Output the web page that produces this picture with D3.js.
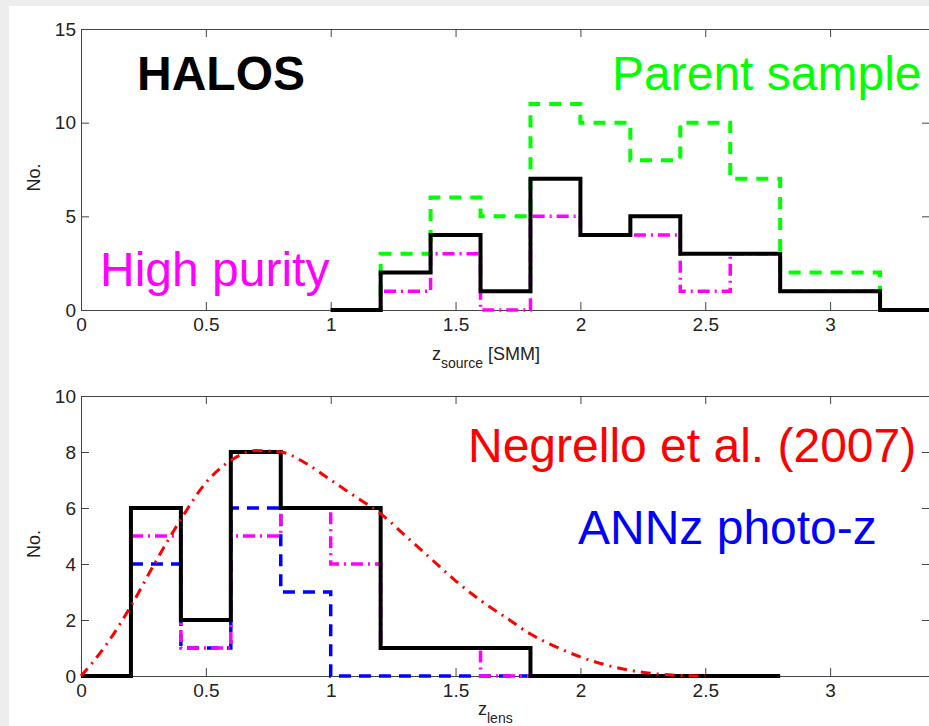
<!DOCTYPE html>
<html>
<head>
<meta charset="utf-8">
<script src="https://cdn.jsdelivr.net/npm/d3@7"></script>
<style>
  html, body { margin: 0; padding: 0; background: #ededed; }
  svg { display: block; font-family: "Liberation Sans", Arial, sans-serif; }
</style>
</head>
<body>
<div id="chart"></div>
<script>
// top panel: z_source histograms (bins of 0.2)
const srcEdges = [1.0, 1.2, 1.4, 1.6, 1.8, 2.0, 2.2, 2.4, 2.6, 2.8, 3.0, 3.2, 3.4];
const srcAll = [0, 2, 4, 1, 7, 4, 5, 3, 3, 1, 1, 0];
const srcParent = [0, 3, 6, 5, 11, 10, 8, 10, 7, 2, 2, 0];
const srcHighPurity = [0, 1, 3, 0, 5, 4, 4, 1, 3, 1, 1, 0];

// bottom panel: z_lens histograms
const lensEdges = [0.0, 0.2, 0.4, 0.6, 0.8, 1.0, 1.2, 1.4, 1.6, 1.8, 2.0, 2.2, 2.4, 2.6, 2.8];
const lensAll = [0, 6, 2, 8, 6, 6, 1, 1, 1, 0, 0, 0, 0, 0];
const annzEdges = [0.2, 0.4, 0.6, 0.8, 1.0, 1.2, 1.4, 1.6, 1.8];
const lensAnnz = [4, 1, 6, 3, 0, 0, 0, 0];
const lensHighPurity = [5, 1, 5, 6, 4, 1, 1, 0];

// Negrello et al. (2007) model curve
const negZ = [0, 0.1, 0.2, 0.3, 0.4, 0.5, 0.6, 0.7, 0.8, 0.9, 1.0, 1.1, 1.2, 1.3,
  1.4, 1.5, 1.6, 1.7, 1.8, 1.9, 2.0, 2.1, 2.2, 2.3, 2.4, 2.5];
const negN = [0, 1.1, 2.5, 4.1, 5.6, 6.9, 7.7, 8.05, 8.0, 7.6, 7.0, 6.4, 5.8, 5.0,
  4.2, 3.4, 2.7, 2.1, 1.5, 1.05, 0.68, 0.4, 0.2, 0.08, 0.02, 0];

const xTicks = [0, 0.5, 1, 1.5, 2, 2.5, 3];
const srcYTicks = [0, 5, 10, 15];
const lensYTicks = [0, 2, 4, 6, 8, 10];

const width = 929;
const height = 726;
const left = 81, right = 930;

const svg = d3.select('#chart')
  .append('svg')
  .attr('width', width)
  .attr('height', height);

svg.append('rect')
  .attr('x', 9).attr('y', 6)
  .attr('width', width).attr('height', height)
  .attr('fill', '#fff');

const x = d3.scaleLinear().domain([0, 3.4]).range([left, right]);

function steps(edges, vals) {
  const pts = vals.map((v, i) => [edges[i], v]);
  pts.push([edges[vals.length], vals[vals.length - 1]]);
  return pts;
}

function panel(top, bottom, yMax, yTicks) {
  const y = d3.scaleLinear().domain([0, yMax]).range([bottom, top]);
  const g = svg.append('g');

  const fmt = d => String(d);
  const style = a => {
    a.select('.domain').attr('stroke', '#444');
    a.selectAll('.tick line').attr('stroke', '#444');
    a.selectAll('.tick text').attr('fill', '#222').attr('font-size', '19px')
      .attr('font-family', '"Liberation Sans", Arial, sans-serif');
  };

  g.append('g')
    .attr('transform', `translate(0,${bottom})`)
    .call(d3.axisBottom(x).tickValues(xTicks).tickFormat(fmt)
      .tickSizeInner(-8).tickSizeOuter(0).tickPadding(8))
    .call(style);
  g.append('g')
    .attr('transform', `translate(0,${top})`)
    .call(d3.axisTop(x).tickValues(xTicks.slice(1)).tickFormat('')
      .tickSizeInner(-8).tickSizeOuter(0))
    .call(style);
  g.append('g')
    .attr('transform', `translate(${left},0)`)
    .call(d3.axisLeft(y).tickValues(yTicks).tickFormat(fmt)
      .tickSizeInner(-8).tickSizeOuter(0).tickPadding(5))
    .call(style);
  g.append('g')
    .attr('transform', `translate(${right},0)`)
    .call(d3.axisRight(y).tickValues(yTicks.slice(1, -1)).tickFormat('')
      .tickSizeInner(-8).tickSizeOuter(0))
    .call(style);

  svg.append('text')
    .attr('transform', `translate(40,${(top + bottom) / 2 + 8}) rotate(-90)`)
    .attr('text-anchor', 'middle')
    .attr('font-size', '18px')
    .attr('fill', '#222')
    .text('No.');

  return y;
}

function drawLine(y, pts, color, w, dash, curve) {
  const line = d3.line()
    .x(d => x(d[0]))
    .y(d => y(d[1]))
    .curve(curve || d3.curveStepAfter);
  svg.append('path')
    .datum(pts)
    .attr('d', line)
    .attr('fill', 'none')
    .attr('stroke', color)
    .attr('stroke-width', w)
    .attr('stroke-dasharray', dash)
    .attr('stroke-linejoin', 'miter');
}

// ---- top panel
const y1 = panel(29, 310, 15, srcYTicks);
drawLine(y1, steps(srcEdges, srcParent), '#00ff00', 4, '12,9');
drawLine(y1, steps(srcEdges, srcHighPurity), '#ff00ff', 3.5, '12,5,2,5');
drawLine(y1, steps(srcEdges, srcAll), '#000', 4, null);

svg.append('text').attr('x', 137).attr('y', 90)
  .attr('font-size', '48px').attr('font-weight', 'bold').attr('fill', '#000')
  .text('HALOS');
svg.append('text').attr('x', 612).attr('y', 90)
  .attr('font-size', '48px').attr('fill', '#00ff00')
  .text('Parent sample');
svg.append('text').attr('x', 100).attr('y', 286)
  .attr('font-size', '48px').attr('fill', '#ff00ff')
  .text('High purity');

const xl1 = svg.append('text').attr('x', 432).attr('y', 360)
  .attr('font-size', '18px').attr('fill', '#222');
xl1.append('tspan').text('z');
xl1.append('tspan').attr('font-size', '14px').attr('dy', 8).text('source');
xl1.append('tspan').attr('dy', -8).text(' [SMM]');

// ---- bottom panel
const y2 = panel(396, 676, 10, lensYTicks);
drawLine(y2, steps(annzEdges, lensAnnz), '#0000ff', 3.5, '12,8');
drawLine(y2, steps(annzEdges, lensHighPurity), '#ff00ff', 3.5, '12,5,2,5');
drawLine(y2, steps(lensEdges, lensAll), '#000', 4, null);
drawLine(y2, negZ.map((z, i) => [z, negN[i]]), '#ff0000', 3, '10,6,2,6', d3.curveMonotoneX);

svg.append('text').attr('x', 468).attr('y', 462)
  .attr('font-size', '48px').attr('fill', '#ff0000')
  .text('Negrello et al. (2007)');
svg.append('text').attr('x', 578).attr('y', 544)
  .attr('font-size', '48px').attr('fill', '#0000ff')
  .text('ANNz photo-z');

const xl2 = svg.append('text').attr('x', 478).attr('y', 715)
  .attr('font-size', '18px').attr('fill', '#222');
xl2.append('tspan').text('z');
xl2.append('tspan').attr('font-size', '14px').attr('dy', 8).text('lens');
</script>
</body>
</html>
